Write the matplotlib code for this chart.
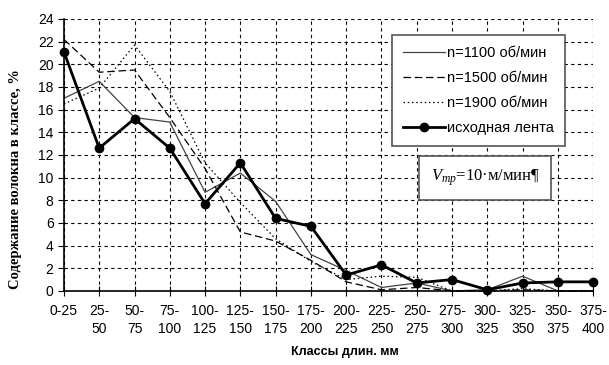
import matplotlib
matplotlib.use("Agg")
import matplotlib.pyplot as plt
import numpy as np

plt.rcParams["font.family"] = ["Liberation Sans", "DejaVu Sans"]
plt.rcParams["mathtext.fontset"] = "custom"
plt.rcParams["mathtext.rm"] = "Liberation Serif"
plt.rcParams["mathtext.it"] = "Liberation Serif:italic"

# length classes, mm
classes = ["0-25", "25-\n50", "50-\n75", "75-\n100", "100-\n125", "125-\n150",
           "150-\n175", "175-\n200", "200-\n225", "225-\n250", "250-\n275",
           "275-\n300", "300-\n325", "325-\n350", "350-\n375", "375-\n400"]

# fibre content in class, %
n1100 = [17.0, 18.5, 15.3, 14.9, 8.7, 10.4, 7.9, 3.2, 1.8, 0.3, 0.7, 0.0, 0.1, 1.3, 0.0, 0.0]
n1500 = [22.2, 19.3, 19.5, 15.3, 10.8, 5.2, 4.4, 2.7, 0.8, 0.1, 0.3, 0.0, 0.0, 0.1, 0.0, 0.0]
n1900 = [16.5, 17.9, 21.7, 17.6, 11.3, 7.8, 4.6, 2.6, 1.0, 1.3, 1.2, 0.0, 0.0, 0.2, 0.0, 0.0]
source = [21.1, 12.6, 15.2, 12.6, 7.7, 11.3, 6.4, 5.7, 1.4, 2.3, 0.7, 1.0, 0.1, 0.7, 0.8, 0.8]

x = np.arange(len(classes))

fig = plt.figure(figsize=(6.09, 3.65), dpi=100)
ax = fig.add_axes([0.105, 0.203, 0.869, 0.745])

ax.plot(x, n1100, color="#444444", lw=0.9, label="n=1100 об/мин", clip_on=False)
ax.plot(x, n1500, color="black", lw=0.9, dashes=(6, 3), label="n=1500 об/мин", clip_on=False)
ax.plot(x, n1900, color="black", lw=0.9, dashes=(1.2, 2.2), label="n=1900 об/мин", clip_on=False)
ax.plot(x, source, color="black", lw=2, marker="o", ms=6, label="исходная лента",
        clip_on=False, zorder=5)

ax.set_xlim(0, len(classes) - 1)
ax.set_ylim(0, 24)
ax.set_xticks(x)
ax.set_xticklabels(classes, fontsize=10, linespacing=1.35)
ax.set_yticks(np.arange(0, 25, 2))
ax.tick_params(axis="y", labelsize=10, length=4, direction="out")
ax.tick_params(axis="x", length=7, direction="inout", pad=6)

ax.grid(True, color="black", lw=0.8, linestyle=(0, (3, 3)))
ax.set_axisbelow(True)
for s in ["top", "right"]:
    ax.spines[s].set_visible(False)
ax.spines["left"].set_linewidth(1.2)
ax.spines["bottom"].set_linewidth(1.2)

leg = ax.legend(loc="upper right", bbox_to_anchor=(0.946, 0.941), borderaxespad=0,
                fontsize=10.5, handlelength=2.9, labelspacing=0.75, fancybox=False,
                framealpha=1, edgecolor="#555555", borderpad=0.75, handletextpad=0.1)
leg.get_frame().set_linewidth(1.2)

ax.text(0.796, 0.415, "$V_{тр}$=10·м/мин¶", transform=ax.transAxes, fontsize=12,
        ha="center", va="center", family="Liberation Serif",
        bbox=dict(boxstyle="square,pad=0.7", fc="white", ec="#555555", lw=1.2))

fig.text(0.025, 0.51, "Содержание волокна в классе, %", rotation=90, ha="center",
         va="center", fontsize=10.5, fontweight="bold", family="Liberation Serif")
fig.text(0.566, 0.036, "Классы длин. мм", ha="center", va="center", fontsize=9,
         fontweight="bold")

fig.savefig("out.png", dpi=100)
